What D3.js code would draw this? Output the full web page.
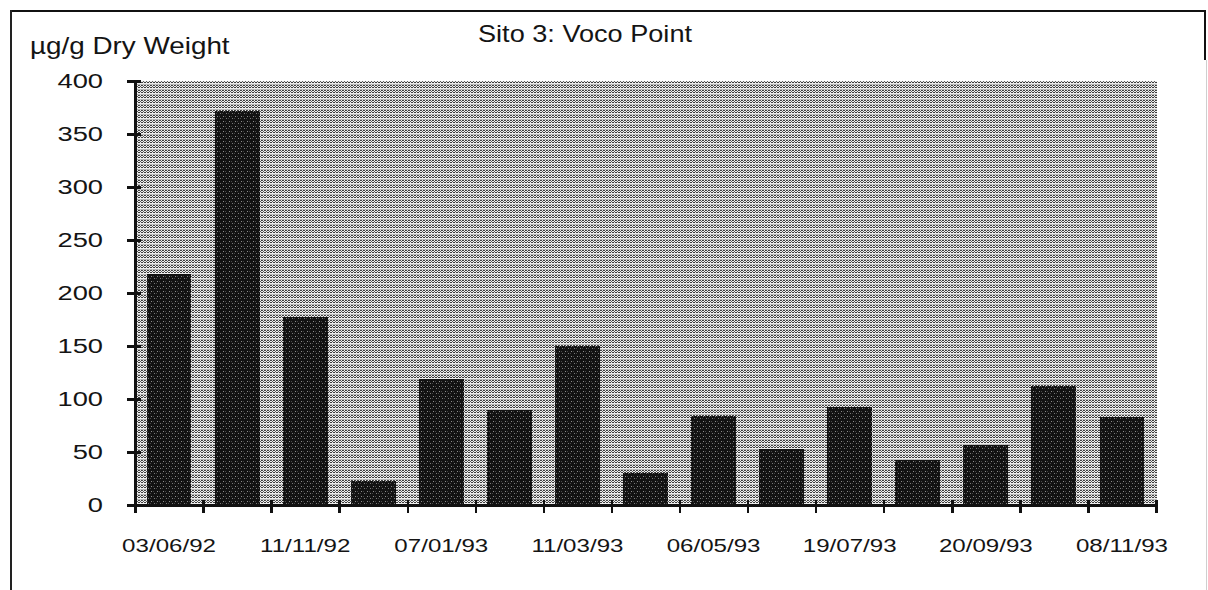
<!DOCTYPE html>
<html>
<head>
<meta charset="utf-8">
<script src="https://cdn.jsdelivr.net/npm/d3@7"></script>
<style>
  html, body { margin: 0; padding: 0; background: #ffffff; }
  svg { display: block; }
  text { font-family: "Liberation Sans", Arial, Helvetica, sans-serif; fill: #141414; }
</style>
</head>
<body>
<svg id="chart" width="1208" height="590"></svg>
<script>
// Sampling occasions (one bar each) and the measured concentration
const samples = ["S1", "S2", "S3", "S4", "S5", "S6", "S7", "S8", "S9", "S10", "S11", "S12", "S13", "S14", "S15"];
const dryWeight = [218, 372, 177, 23, 119, 90, 150, 30, 84, 53, 92, 42, 57, 112, 83];
// Dates printed under every second bar
const dateLabels = ["03/06/92", "", "11/11/92", "", "07/01/93", "", "11/03/93", "", "06/05/93", "", "19/07/93", "", "20/09/93", "", "08/11/93"];
const yTicks = [0, 50, 100, 150, 200, 250, 300, 350, 400];

const chartTitle = "Sito 3: Voco Point";
const yTitle = "\u00b5g/g Dry Weight";

const svg = d3.select("#chart");
const W = 1208, H = 590;
const plot = { left: 135, right: 1156, top: 81, bottom: 505 };

// Halftone textures for the plot background and the bars
const defs = svg.append("defs");
const bgPat = defs.append("pattern")
  .attr("id", "screen").attr("patternUnits", "userSpaceOnUse")
  .attr("width", 6).attr("height", 5);
bgPat.append("rect").attr("width", 6).attr("height", 5).attr("fill", "#ececec");
const bgDots = [
  [0,0,"#3a3a3a"],[1,0,"#4a4a4a"],[3,0,"#3a3a3a"],[4,0,"#4a4a4a"],
  [2,1,"#5a5a5a"],[5,1,"#5a5a5a"],
  [0,2,"#404040"],[1,2,"#383838"],[3,2,"#404040"],[4,2,"#383838"],
  [0,4,"#bcbcbc"],[1,4,"#b4b4b4"],[2,4,"#c0c0c0"],[3,4,"#b4b4b4"],[4,4,"#bcbcbc"],[5,4,"#b0b0b0"]
];
bgPat.selectAll("rect.d").data(bgDots).join("rect").attr("class", "d")
  .attr("x", d => d[0]).attr("y", d => d[1]).attr("width", 1).attr("height", 1)
  .attr("fill", d => d[2]);

const barPat = defs.append("pattern")
  .attr("id", "barScreen").attr("patternUnits", "userSpaceOnUse")
  .attr("width", 6).attr("height", 5);
barPat.append("rect").attr("width", 6).attr("height", 5).attr("fill", "#121212");
const barDots = [[1,1,"#8c8c8c"],[4,3,"#7a7a7a"],[3,1,"#444"],[0,3,"#444"]];
barPat.selectAll("rect.d").data(barDots).join("rect").attr("class", "d")
  .attr("x", d => d[0]).attr("y", d => d[1]).attr("width", 1).attr("height", 1)
  .attr("fill", d => d[2]);

svg.attr("shape-rendering", "crispEdges");

// Outer frame
const frame = svg.append("g");
frame.append("line").attr("x1", 11).attr("x2", 1206).attr("y1", 11).attr("y2", 11)
  .attr("stroke", "#111").attr("stroke-width", 2);
frame.append("line").attr("x1", 11).attr("x2", 11).attr("y1", 10).attr("y2", H)
  .attr("stroke", "#222").attr("stroke-width", 2);
frame.append("line").attr("x1", 1205).attr("x2", 1205).attr("y1", 10).attr("y2", 60)
  .attr("stroke", "#111").attr("stroke-width", 2);
frame.append("line").attr("x1", 1206).attr("x2", 1206).attr("y1", 60).attr("y2", H)
  .attr("stroke", "#cfcfcf").attr("stroke-width", 1);

// Scales
const x = d3.scaleBand().domain(samples)
  .range([plot.left, plot.right]).paddingInner(0.34).paddingOuter(0.17);
const y = d3.scaleLinear().domain([0, 400]).range([plot.bottom, plot.top]);
const edge = d3.scaleLinear().domain([0, samples.length]).range([plot.left, plot.right]);

// Plot background
svg.append("rect")
  .attr("x", plot.left + 1).attr("y", y(400))
  .attr("width", plot.right - plot.left).attr("height", y(0) - y(400))
  .attr("fill", "url(#screen)");

// Bars
svg.append("g").selectAll("rect")
  .data(dryWeight)
  .join("rect")
  .attr("x", (d, i) => x(samples[i]))
  .attr("width", x.bandwidth())
  .attr("y", d => y(d))
  .attr("height", d => y(0) - y(d))
  .attr("fill", "url(#barScreen)");

// Y axis
const yAxis = svg.append("g")
  .attr("transform", `translate(${plot.left},0)`)
  .call(d3.axisLeft(y).tickValues(yTicks).tickFormat(d3.format("d")).tickSizeInner(8).tickSizeOuter(0));
yAxis.select(".domain").attr("stroke", "#111").attr("stroke-width", 3);
yAxis.selectAll(".tick line").attr("stroke", "#111").attr("stroke-width", 3)
  .attr("x1", 6);
yAxis.selectAll(".tick text")
  .attr("x", null)
  .attr("transform", "translate(-32,0) scale(1.3,1)")
  .attr("text-anchor", "end")
  .style("font-size", "21px");

// X axis: tick marks between bars, dates centred under bars
const xTicks = svg.append("g")
  .attr("transform", `translate(0,${plot.bottom})`)
  .call(d3.axisBottom(edge).tickValues(d3.range(samples.length + 1)).tickFormat("").tickSizeInner(8).tickSizeOuter(0));
xTicks.select(".domain").attr("stroke", "#111").attr("stroke-width", 3);
xTicks.selectAll(".tick line").attr("stroke", "#111").attr("stroke-width", 2.5).attr("y1", -5);

const xAxis = svg.append("g")
  .attr("transform", `translate(0,${plot.bottom})`)
  .call(d3.axisBottom(x).tickSize(0).tickFormat((d, i) => dateLabels[i]));
xAxis.select(".domain").remove();
xAxis.selectAll(".tick text")
  .attr("y", null)
  .attr("dy", "0.35em")
  .attr("transform", "translate(0,40) scale(1.27,1)")
  .style("font-size", "19px");

// Titles
svg.append("text")
  .attr("transform", "translate(585,42) scale(1.13,1)")
  .attr("text-anchor", "middle")
  .style("font-size", "24px")
  .text(chartTitle);

svg.append("text")
  .attr("transform", "translate(30,54) scale(1.16,1)")
  .attr("text-anchor", "start")
  .style("font-size", "24px")
  .text(yTitle);
</script>
</body>
</html>
